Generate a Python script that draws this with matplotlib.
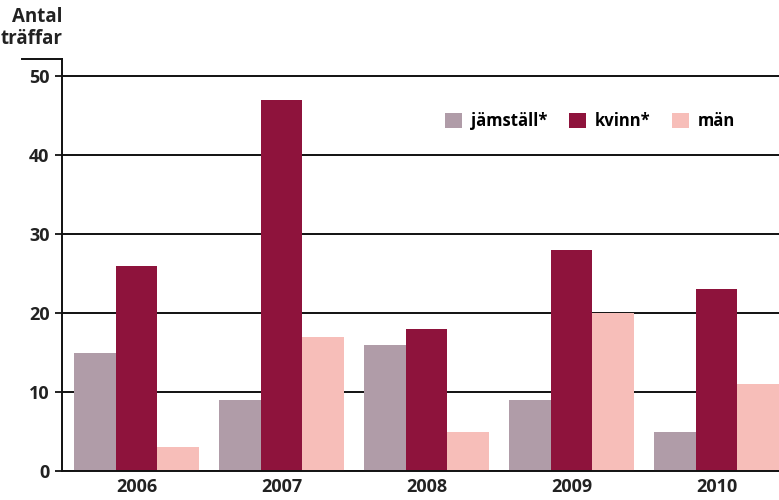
import numpy as np
import matplotlib

matplotlib.use("Agg")
import matplotlib.pyplot as plt

years = ["2006", "2007", "2008", "2009", "2010"]
jamstall = [15, 9, 16, 9, 5]
kvinn = [26, 47, 18, 28, 23]
man = [3, 17, 5, 20, 11]

series = [("jämställ*", jamstall, "#B09CA8"),
          ("kvinn*", kvinn, "#8E133C"),
          ("män", man, "#F7BEB9")]

plt.rcParams["font.family"] = ["Open Sans", "DejaVu Sans"]
plt.rcParams["font.weight"] = "bold"

fig = plt.figure(figsize=(7.79, 5.0), dpi=100)
ax = fig.add_axes([62 / 779, 29 / 500, 1 - 62 / 779, (471 - 59) / 500])

x = np.arange(len(years))
w = 0.287
for i, (label, vals, color) in enumerate(series):
    ax.bar(x + (i - 1) * w, vals, w, color=color, label=label, zorder=2)

ax.set_ylim(0, 52.2)
ax.set_xlim(-0.514, 4.431)
ax.set_yticks([0, 10, 20, 30, 40, 50])
ax.set_xticks(x)
ax.set_xticklabels(years)
ax.grid(axis="y", color="#111111", linewidth=1.4, zorder=1)
ax.set_axisbelow(True)

for side in ("top", "right"):
    ax.spines[side].set_visible(False)
for side in ("left", "bottom"):
    ax.spines[side].set_linewidth(1.4)
    ax.spines[side].set_color("#111111")

ax.tick_params(axis="y", length=5, width=1.4, labelsize=13, pad=4, colors="#222222")
ax.tick_params(axis="x", length=0, labelsize=13, pad=5, colors="#222222")
# small stub at the top of the y axis
ax.plot([-0.056, 0], [1, 1], transform=ax.transAxes, color="#111111",
        linewidth=1.4, clip_on=False)

fig.text(63 / 779, 1 - 7 / 500, "Antal\nträffar", ha="right", va="top",
         fontsize=13.5, fontweight="bold", color="#222222", linespacing=1.1)

ax.legend(loc="center left", bbox_to_anchor=(430 / 779, 1 - 121 / 500),
          bbox_transform=fig.transFigure, ncol=3, frameon=False,
          fontsize=12, handlelength=1.0, handleheight=1.0,
          handletextpad=0.55, columnspacing=1.3)

fig.savefig("out.png", dpi=100)
